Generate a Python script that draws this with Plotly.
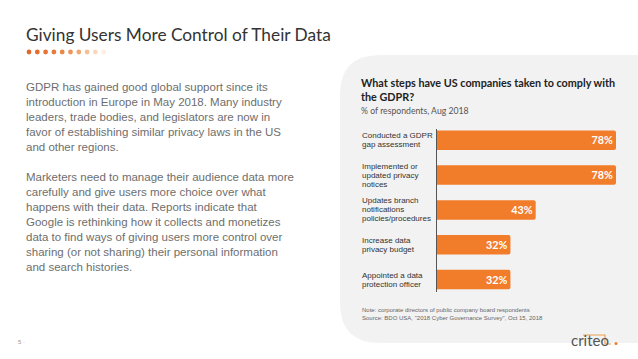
import plotly.graph_objects as go

W, H = 638, 359

categories = [
    "Conducted a GDPR\ngap assessment",
    "Implemented or\nupdated privacy\nnotices",
    "Updates branch\nnotifications\npolicies/procedures",
    "Increase data\nprivacy budget",
    "Appointed a data\nprotection officer",
]
values = [78, 78, 43, 32, 32]
value_labels = [f"{v}%" for v in values]

page_title = "Giving Users More Control of Their Data"
paragraph1 = [
    "GDPR has gained good global support since its",
    "introduction in Europe in May 2018. Many industry",
    "leaders, trade bodies, and legislators are now in",
    "favor of establishing similar privacy laws in the US",
    "and other regions.",
]
paragraph2 = [
    "Marketers need to manage their audience data more",
    "carefully and give users more choice over what",
    "happens with their data. Reports indicate that",
    "Google is rethinking how it collects and monetizes",
    "data to find ways of giving users more control over",
    "sharing (or not sharing) their personal information",
    "and search histories.",
]
chart_title = ["What steps have US companies taken to comply with", "the GDPR?"]
chart_subtitle = "% of respondents, Aug 2018"
notes = [
    "Note: corporate directors of public company board respondents",
    "Source: BDO USA, \"2018 Cyber Governance Survey\", Oct 15, 2018",
]


def px(x):
    return x / W


def py(y):
    return 1 - y / H


ORANGE = "#F17D2A"
ylabels_idx = list(range(len(categories)))

fig = go.Figure()
fig.add_trace(go.Bar(
    x=values,
    y=ylabels_idx,
    orientation="h",
    marker=dict(color=ORANGE, line=dict(width=0)),
    width=0.56,
    text=value_labels,
    textposition="inside",
    insidetextanchor="end",
    textfont=dict(family="Lato", size=12, color="white", weight="bold"),
    hoverinfo="skip",
    cliponaxis=False,
))

# axis geometry (pixels)
x_axis_px = 437
y_top_px, y_bot_px = 129, 292
unit_px = 34.8
first_center_px = 140.3
r_top = (y_top_px - first_center_px) / unit_px
r_bot = (y_bot_px - first_center_px) / unit_px

fig.update_layout(
    width=W, height=H,
    margin=dict(l=0, r=0, t=0, b=0),
    paper_bgcolor="white",
    plot_bgcolor="rgba(0,0,0,0)",
    showlegend=False,
    barcornerradius=2,
    xaxis=dict(domain=[px(x_axis_px), px(630)], range=[0, 84.1],
               showgrid=False, zeroline=False, showticklabels=False, showline=False),
    yaxis=dict(domain=[py(y_bot_px), py(y_top_px)], range=[r_bot, r_top],
               showgrid=False, zeroline=False, showticklabels=False,
               showline=True, linecolor="#555555", linewidth=1),
)

shapes = []
# grey panel with rounded left corners
x0, y0, y1, rad = 340, 55, 343, 40
path = (f"M {px(x0+rad)},{py(y0)} L 1,{py(y0)} L 1,{py(y1)} L {px(x0+rad)},{py(y1)} "
        f"Q {px(x0)},{py(y1)} {px(x0)},{py(y1-rad)} L {px(x0)},{py(y0+rad)} "
        f"Q {px(x0)},{py(y0)} {px(x0+rad)},{py(y0)} Z")
shapes.append(dict(type="path", path=path, xref="paper", yref="paper",
                   fillcolor="#F2F2F2", line=dict(width=0), layer="below"))

# decorative dots
dot_colors = ["#E06A2C", "#E36F2F", "#E57534", "#E77C3A", "#EA8747", "#ED9558",
              "#F0A772", "#F4BF97", "#F8D8BF", "#FCEEE3"]
for i, c in enumerate(dot_colors):
    cx, cy, r = 29 + i * 8.3, 52, 2.4
    shapes.append(dict(type="circle", xref="paper", yref="paper",
                       x0=px(cx - r), x1=px(cx + r), y0=py(cy + r), y1=py(cy - r),
                       fillcolor=c, line=dict(width=0)))

# criteo logo mark
shapes.append(dict(type="path", xref="paper", yref="paper",
                   path=f"M {px(583)},{py(335)} L {px(605)},{py(335)} L {px(605)},{py(344)} L {px(611)},{py(344)}",
                   line=dict(color="#F0A050", width=1.2)))
shapes.append(dict(type="circle", xref="paper", yref="paper",
                   x0=px(614.5), x1=px(617.5), y0=py(345), y1=py(342),
                   fillcolor="#F07C28", line=dict(width=0)))
fig.update_layout(shapes=shapes)

ann = []
ann.append(dict(text=page_title, x=px(24), y=py(35), xref="paper", yref="paper",
                xanchor="left", yanchor="middle", showarrow=False,
                font=dict(family="Lato", size=17.3, color="#333333")))

body_font = dict(family="Liberation Sans", size=11.5, color="#6E6E6E")
ann.append(dict(text="<br>".join(paragraph1), x=px(24), y=py(78.5), xref="paper", yref="paper",
                xanchor="left", yanchor="top", align="left", showarrow=False, font=body_font))
ann.append(dict(text="<br>".join(paragraph2), x=px(24), y=py(168.5), xref="paper", yref="paper",
                xanchor="left", yanchor="top", align="left", showarrow=False, font=body_font))

ann.append(dict(text="<b>" + "<br>".join(chart_title) + "</b>", x=px(359), y=py(74),
                xref="paper", yref="paper", xanchor="left", yanchor="top", align="left",
                showarrow=False, font=dict(family="Lato", size=10.8, color="#222222")))
ann.append(dict(text=chart_subtitle, x=px(359), y=py(110.5), xref="paper", yref="paper",
                xanchor="left", yanchor="middle", showarrow=False,
                font=dict(family="Lato", size=8.7, color="#555555")))

# category labels, one line at a time for tight line spacing
line_px = 9.0
for i, cat in enumerate(categories):
    lines = cat.split("\n")
    n = len(lines)
    for k, ln in enumerate(lines):
        off = (k - (n - 1) / 2) * line_px / unit_px
        ann.append(dict(text=ln, x=px(360), y=i + off, xref="paper", yref="y",
                        xanchor="left", yanchor="middle", showarrow=False,
                        font=dict(family="Liberation Sans", size=8, color="#333333")))

for k, ln in enumerate(notes):
    ann.append(dict(text=ln, x=px(360), y=py(310 + 7.7 * k), xref="paper", yref="paper",
                    xanchor="left", yanchor="middle", showarrow=False,
                    font=dict(family="Liberation Sans", size=6, color="#666666")))

ann.append(dict(text="criteo", x=px(569), y=py(340), xref="paper", yref="paper",
                xanchor="left", yanchor="middle", showarrow=False,
                font=dict(family="Lato", size=15, color="#555555")))
ann.append(dict(text="5 ·", x=px(16), y=py(342), xref="paper", yref="paper",
                xanchor="left", yanchor="middle", showarrow=False,
                font=dict(family="Liberation Sans", size=6, color="#999999")))

fig.update_layout(annotations=ann)
fig.write_html("out.html", config={"displayModeBar": False},
               post_script="document.body.style.margin='0';document.body.style.overflow='hidden';")
